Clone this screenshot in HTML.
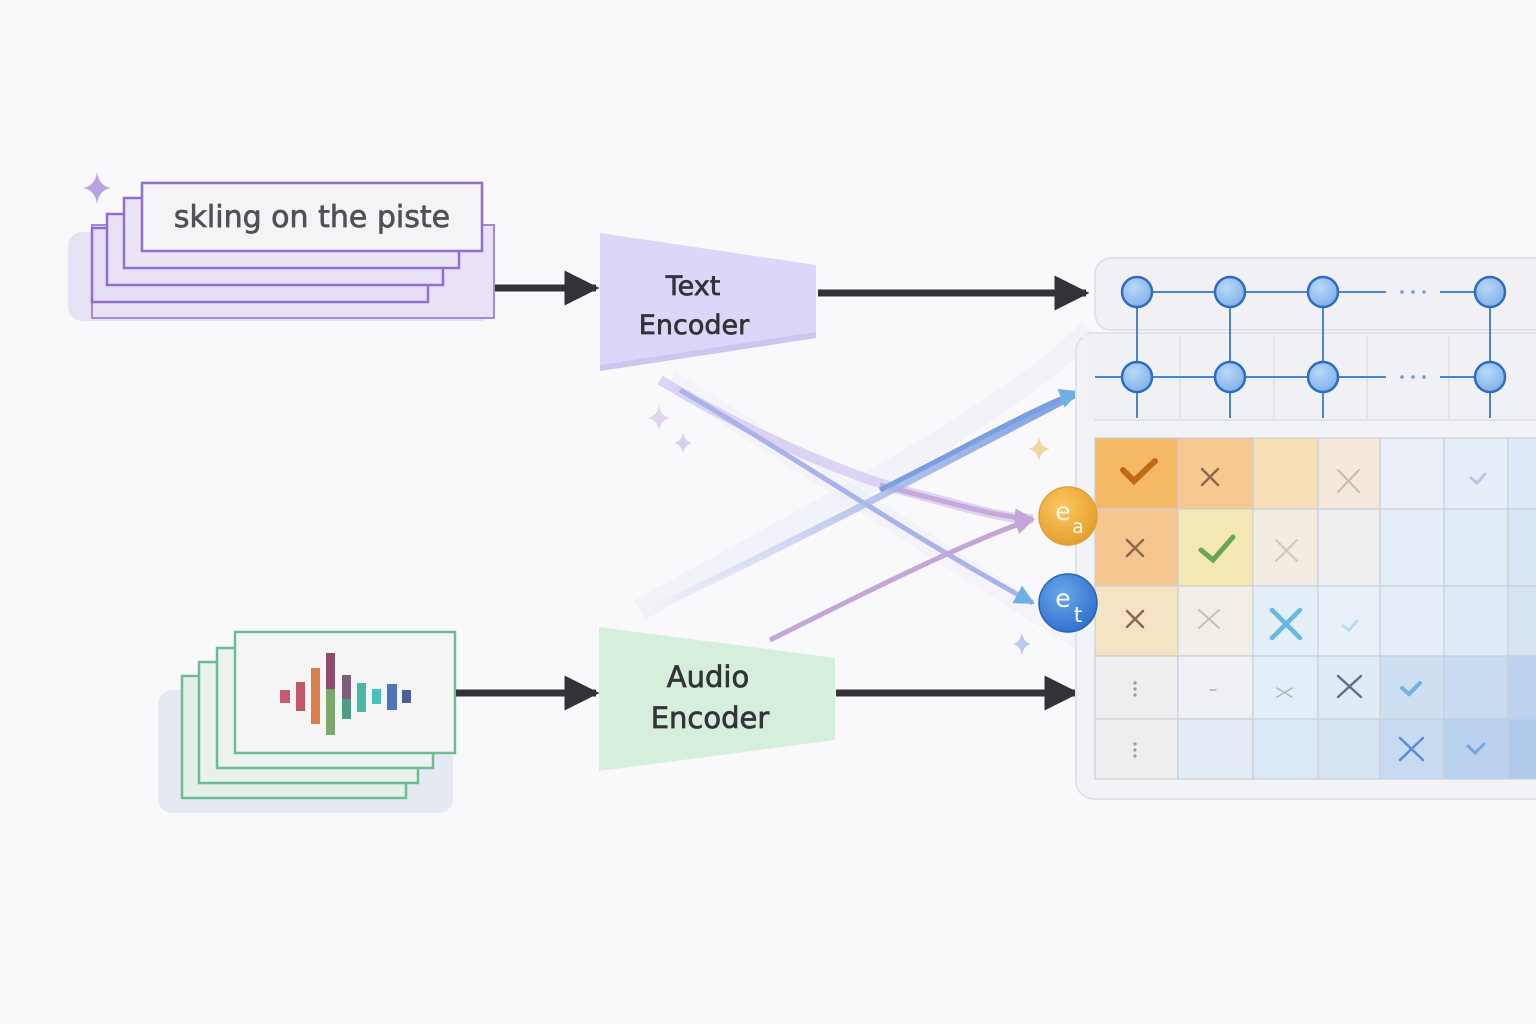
<!DOCTYPE html>
<html><head><meta charset="utf-8"><style>
html,body{margin:0;padding:0;background:#f9f8fb;}
svg{display:block}
text{font-family:"DejaVu Sans","Liberation Sans",sans-serif;}
</style></head><body>
<svg width="1536" height="1024" viewBox="0 0 1536 1024" xmlns="http://www.w3.org/2000/svg">
<defs>
<marker id="ah" viewBox="0 0 10 10" refX="9" refY="5" markerWidth="5" markerHeight="5" orient="auto"><path d="M0,0 L10,5 L0,10 z" fill="#333238"/></marker>
<marker id="ahb" viewBox="0 0 10 10" refX="9" refY="5" markerWidth="4" markerHeight="4" orient="auto"><path d="M0,0 L10,5 L0,10 z" fill="#6fb0e6"/></marker>
<marker id="ahp" viewBox="0 0 10 10" refX="9" refY="5" markerWidth="4" markerHeight="4" orient="auto"><path d="M0,0 L10,5 L0,10 z" fill="#c4a6d6"/></marker>
<radialGradient id="og" cx="0.4" cy="0.35" r="0.7"><stop offset="0" stop-color="#fbc860"/><stop offset="1" stop-color="#e39d2a"/></radialGradient>
<radialGradient id="bg" cx="0.4" cy="0.35" r="0.7"><stop offset="0" stop-color="#6aa8ea"/><stop offset="1" stop-color="#2d6fcc"/></radialGradient>
<radialGradient id="ng" cx="0.4" cy="0.35" r="0.7"><stop offset="0" stop-color="#b9d8f7"/><stop offset="1" stop-color="#7fb0ea"/></radialGradient>
<linearGradient id="fadeB" x1="0" y1="1" x2="1" y2="0"><stop offset="0" stop-color="#a8b9ea" stop-opacity="0"/><stop offset="0.5" stop-color="#a8b9ea" stop-opacity="0.8"/><stop offset="1" stop-color="#7a9fe0"/></linearGradient>
</defs>

<!-- text stack -->
<rect x="68" y="232" width="426" height="89" rx="14" fill="#e6e1f3"/>
<rect x="92" y="225" width="402" height="93" fill="#e9e2f7" stroke="#a58ad8" stroke-width="2"/>
<rect x="92" y="228" width="336" height="74" fill="#e6ddf6" stroke="#8f6fcf" stroke-width="2.5"/>
<rect x="107" y="214" width="336" height="71" fill="#e9e1f6" stroke="#8f6fcf" stroke-width="2.5"/>
<rect x="124" y="198" width="335" height="70" fill="#ece5f6" stroke="#8f6fcf" stroke-width="2.5"/>
<rect x="142" y="183" width="340" height="68" fill="#f4f3f6" stroke="#8f6fcf" stroke-width="2.5"/>
<text x="312" y="227" font-size="30" fill="#505056" stroke="#505056" stroke-width="0.7" text-anchor="middle">skling on the piste</text>
<path d="M97,172 Q99,186 111,188 Q99,190 97,204 Q95,190 83,188 Q95,186 97,172z" fill="#b6a3e6"/>

<!-- audio stack -->
<rect x="158" y="690" width="295" height="123" rx="14" fill="#e6e9f2"/>
<rect x="182" y="676" width="224" height="122" fill="#e4efe7" stroke="#6dbd94" stroke-width="2.5"/>
<rect x="199" y="662" width="219" height="121" fill="#e8f1ea" stroke="#6dbd94" stroke-width="2.5"/>
<rect x="217" y="648" width="216" height="120" fill="#edf3ee" stroke="#6dbd94" stroke-width="2.5"/>
<rect x="235" y="632" width="220" height="121" fill="#f5f5f6" stroke="#6dbd94" stroke-width="2.5"/>
<g>
<rect x="280" y="690" width="10" height="13" fill="#c45a76"/>
<rect x="296" y="682" width="9" height="29" fill="#c2566a"/>
<rect x="311" y="668" width="9" height="56" fill="#d9804c"/>
<rect x="326" y="653" width="9" height="36" fill="#8c4c6e"/>
<rect x="326" y="689" width="9" height="46" fill="#7ba86b"/>
<rect x="342" y="675" width="9" height="24" fill="#7a5e7a"/>
<rect x="342" y="699" width="9" height="20" fill="#4d9d86"/>
<rect x="357" y="683" width="9" height="29" fill="#4ab6a4"/>
<rect x="372" y="689" width="9" height="15" fill="#48c0bc"/>
<rect x="387" y="684" width="10" height="26" fill="#4f74b8"/>
<rect x="402" y="690" width="9" height="13" fill="#4c5e9c"/>
</g>

<!-- encoders -->
<polygon points="600,233 816,265 816,338 600,371" fill="#dcd7f8"/>
<polygon points="600,365 816,332 816,338 600,371" fill="#cbc5f0"/>
<g fill="#333338" stroke="#333338" stroke-width="0.7" text-anchor="middle">
<text x="693" y="295" font-size="27">Text</text>
<text x="694" y="334" font-size="27">Encoder</text>
</g>
<polygon points="599,627 835,658 835,740 599,771" fill="#d6efdd"/>
<g fill="#333338" stroke="#333338" stroke-width="0.7" text-anchor="middle">
<text x="708" y="687" font-size="29">Audio</text>
<text x="710" y="728" font-size="29">Encoder</text>
</g>

<!-- main arrows -->
<g stroke="#333238" stroke-width="7" fill="none" marker-end="url(#ah)">
<line x1="495" y1="288" x2="596" y2="288"/>
<line x1="818" y1="293" x2="1086" y2="293"/>
<line x1="456" y1="693" x2="596" y2="693"/>
<line x1="836" y1="693" x2="1076" y2="693"/>
</g>

<!-- soft glows -->
<path d="M640,610 C800,520 1000,420 1090,330" stroke="#e9ecf6" stroke-width="22" fill="none" opacity="0.45"/>
<path d="M670,380 C800,460 950,560 1080,640" stroke="#ecebf7" stroke-width="20" fill="none" opacity="0.4"/>

<!-- crossing curves -->
<path d="M660,380 C760,440 860,480 920,495 C970,508 1000,518 1033,519" stroke="#d3c8f1" stroke-width="10" fill="none" opacity="0.75"/>
<path d="M880,485 C960,505 1000,518 1033,519" stroke="#c7a9d9" stroke-width="5" fill="none" marker-end="url(#ahp)"/>
<path d="M680,390 C800,460 900,530 1033,603" stroke="#a9b3ea" stroke-width="5" fill="none" marker-end="url(#ahb)"/>
<path d="M650,610 C800,540 950,460 1080,392" stroke="url(#fadeB)" stroke-width="7" fill="none"/>
<path d="M880,490 C960,450 1030,410 1078,392" stroke="#7a9fe0" stroke-width="5" fill="none" marker-end="url(#ahb)"/>
<path d="M770,640 C870,590 970,540 1033,519" stroke="#c4a6d6" stroke-width="5" fill="none" marker-end="url(#ahp)"/>

<!-- sparkles -->
<path d="M659,404 Q660,416 670,418 Q660,420 659,432 Q658,420 648,418 Q658,416 659,404z" fill="#e2d4ea"/>
<path d="M683,432 Q684,441 692,443 Q684,445 683,454 Q682,445 674,443 Q682,441 683,432z" fill="#d8d0f2"/>
<path d="M1039,436 Q1040,447 1050,449 Q1040,451 1039,462 Q1038,451 1028,449 Q1038,447 1039,436z" fill="#f2d3a4"/>
<path d="M1022,632 Q1023,642 1031,644 Q1023,646 1022,656 Q1021,646 1013,644 Q1021,642 1022,632z" fill="#b7caee"/>

<!-- right panel -->
<rect x="1095" y="258" width="460" height="72" rx="16" fill="#f1f1f5" stroke="#dfe2ec" stroke-width="2"/>
<rect x="1076" y="333" width="480" height="466" rx="18" fill="#f2f3f7" stroke="#dfe3ec" stroke-width="2"/>
<rect x="1082" y="335" width="470" height="84" fill="#f0f1f5"/>
<g stroke="#dde0e6" stroke-width="1.5">
<line x1="1180" y1="335" x2="1180" y2="418"/><line x1="1274" y1="335" x2="1274" y2="418"/><line x1="1367" y1="335" x2="1367" y2="418"/><line x1="1449" y1="335" x2="1449" y2="418"/>
<line x1="1094" y1="420" x2="1536" y2="420"/>
</g>
<g stroke="#4a86cf" stroke-width="2">
<line x1="1137" y1="292" x2="1386" y2="292"/><line x1="1440" y1="292" x2="1490" y2="292"/>
<line x1="1095" y1="377" x2="1386" y2="377"/><line x1="1440" y1="377" x2="1490" y2="377"/>
<line x1="1137" y1="292" x2="1137" y2="418"/><line x1="1230" y1="292" x2="1230" y2="418"/><line x1="1323" y1="292" x2="1323" y2="418"/><line x1="1490" y1="292" x2="1490" y2="418"/>
</g>
<g fill="#6d9bdc"><circle cx="1402" cy="292" r="1.8"/><circle cx="1413" cy="292" r="1.8"/><circle cx="1424" cy="292" r="1.8"/><circle cx="1402" cy="377" r="1.8"/><circle cx="1413" cy="377" r="1.8"/><circle cx="1424" cy="377" r="1.8"/></g>
<g fill="url(#ng)" stroke="#2f6bc2" stroke-width="2.5">
<circle cx="1137" cy="292" r="15"/><circle cx="1230" cy="292" r="15"/><circle cx="1323" cy="292" r="15"/><circle cx="1490" cy="292" r="15"/>
<circle cx="1137" cy="377" r="15"/><circle cx="1230" cy="377" r="15"/><circle cx="1323" cy="377" r="15"/><circle cx="1490" cy="377" r="15"/>
</g>

<!-- matrix -->
<g stroke="#c9cfd9" stroke-width="1.2">
<rect x="1095" y="438" width="83" height="71" fill="#f5b866"/><rect x="1178" y="438" width="75" height="71" fill="#f5c990"/><rect x="1253" y="438" width="65" height="71" fill="#f7dfb8"/><rect x="1318" y="438" width="62" height="71" fill="#f4e9dc"/><rect x="1380" y="438" width="64" height="71" fill="#ecf0f6"/><rect x="1444" y="438" width="64" height="71" fill="#e6eff8"/><rect x="1508" y="438" width="30" height="71" fill="#dde9f6"/>
<rect x="1095" y="509" width="83" height="77" fill="#f5c68f"/><rect x="1178" y="509" width="75" height="77" fill="#f3e7b4"/><rect x="1253" y="509" width="65" height="77" fill="#f2ece2"/><rect x="1318" y="509" width="62" height="77" fill="#efeff2"/><rect x="1380" y="509" width="64" height="77" fill="#e6eef8"/><rect x="1444" y="509" width="64" height="77" fill="#e2ecf7"/><rect x="1508" y="509" width="30" height="77" fill="#d8e6f5"/>
<rect x="1095" y="586" width="83" height="70" fill="#f5e3c4"/><rect x="1178" y="586" width="75" height="70" fill="#f1eee8"/><rect x="1253" y="586" width="65" height="70" fill="#e3eef7"/><rect x="1318" y="586" width="62" height="70" fill="#e9f0f8"/><rect x="1380" y="586" width="64" height="70" fill="#e5edf7"/><rect x="1444" y="586" width="64" height="70" fill="#e1ebf7"/><rect x="1508" y="586" width="30" height="70" fill="#d5e3f3"/>
<rect x="1095" y="656" width="83" height="63" fill="#eeeeee"/><rect x="1178" y="656" width="75" height="63" fill="#eef0f3"/><rect x="1253" y="656" width="65" height="63" fill="#e4eef7"/><rect x="1318" y="656" width="62" height="63" fill="#e0ebf6"/><rect x="1380" y="656" width="64" height="63" fill="#cfdff2"/><rect x="1444" y="656" width="64" height="63" fill="#c9dbf1"/><rect x="1508" y="656" width="30" height="63" fill="#bcd2ee"/>
<rect x="1095" y="719" width="83" height="60" fill="#eeeeee"/><rect x="1178" y="719" width="75" height="60" fill="#e4ecf5"/><rect x="1253" y="719" width="65" height="60" fill="#dbe8f5"/><rect x="1318" y="719" width="62" height="60" fill="#d5e3f3"/><rect x="1380" y="719" width="64" height="60" fill="#c7daf0"/><rect x="1444" y="719" width="64" height="60" fill="#bad1ed"/><rect x="1508" y="719" width="30" height="60" fill="#b0caeb"/>
</g>
<g fill="none" stroke-linecap="round">
<path d="M1123,470 L1134,481 L1155,461" stroke="#c06a12" stroke-width="6"/>
<path d="M1202,469 L1218,485 M1218,469 L1202,485" stroke="#8a6a4e" stroke-width="2.5"/>
<path d="M1338,470 L1359,492 M1359,470 L1338,492" stroke="#c7bdb0" stroke-width="2"/>
<path d="M1471,478 L1477,483 L1485,474" stroke="#b9c4ee" stroke-width="3"/>
<path d="M1127,540 L1143,556 M1143,540 L1127,556" stroke="#8a6a4e" stroke-width="2.5"/>
<path d="M1201,550 L1213,560 L1233,537" stroke="#6aa650" stroke-width="5"/>
<path d="M1276,540 L1297,561 M1297,540 L1276,561" stroke="#d2c8bc" stroke-width="2"/>
<path d="M1127,611 L1143,627 M1143,611 L1127,627" stroke="#8a6a4e" stroke-width="2.5"/>
<path d="M1199,610 L1219,628 M1219,610 L1199,628" stroke="#c8c0b0" stroke-width="2"/>
<path d="M1272,610 L1300,638 M1300,610 L1272,638" stroke="#69b8e2" stroke-width="4.5"/>
<path d="M1343,626 L1349,630 L1357,621" stroke="#b5e1ec" stroke-width="3"/>
<path d="M1338,676 L1361,697 M1361,676 L1338,697" stroke="#5f6f90" stroke-width="2.5"/>
<path d="M1277,688 L1292,697 M1292,688 L1277,697" stroke="#aab6c6" stroke-width="1.5"/>
<path d="M1402,688 L1409,694 L1420,683" stroke="#6fb2e4" stroke-width="4"/>
<path d="M1400,738 L1423,760 M1423,738 L1400,760" stroke="#5c8ad6" stroke-width="2.5"/>
<path d="M1468,746 L1475,753 L1484,744" stroke="#77a6dc" stroke-width="3"/>
<path d="M1210,690 L1216,690" stroke="#9a9aa0" stroke-width="1.2"/>
</g>
<g fill="#999aa2"><circle cx="1135" cy="683" r="1.6"/><circle cx="1135" cy="689" r="1.6"/><circle cx="1135" cy="695" r="1.6"/><circle cx="1135" cy="744" r="1.6"/><circle cx="1135" cy="750" r="1.6"/><circle cx="1135" cy="756" r="1.6"/></g>

<!-- e circles -->
<circle cx="1068" cy="516" r="29" fill="url(#og)" stroke="#e0a040" stroke-width="1.5"/>
<text x="1063" y="520" font-size="25" fill="#fff8ea" text-anchor="middle">e</text>
<text x="1078" y="533" font-size="19" fill="#fff8ea" text-anchor="middle">a</text>
<circle cx="1068" cy="603" r="29" fill="url(#bg)" stroke="#2a62b8" stroke-width="1.5"/>
<text x="1063" y="607" font-size="25" fill="#ffffff" text-anchor="middle">e</text>
<text x="1078" y="622" font-size="21" fill="#ffffff" text-anchor="middle">t</text>
</svg>
</body></html>
